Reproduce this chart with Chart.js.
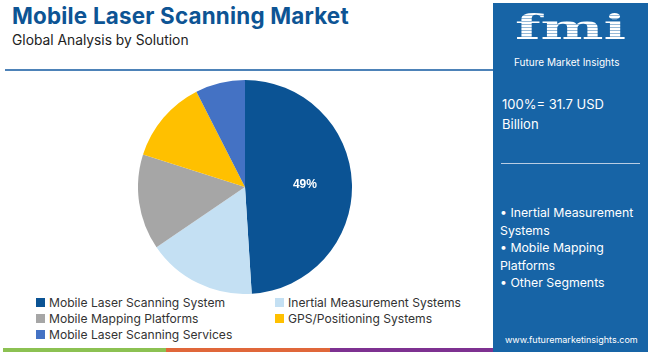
<!DOCTYPE html>
<html>
<head>
<meta charset="utf-8">
<script src="https://cdn.jsdelivr.net/npm/chart.js@4/dist/chart.umd.min.js"></script>
<style>
  html, body { margin: 0; padding: 0; background: #fff; }
  body { width: 650px; height: 352px; position: relative; overflow: hidden; font-family: "Open Sans", sans-serif; }
  #title { position: absolute; left: 12px; top: 2px; font: 700 22.4px "Inter", sans-serif; color: #0d5494; letter-spacing: 0.2px; white-space: nowrap; }
  #subtitle { position: absolute; left: 12px; top: 32px; font: 400 13.8px "Inter", sans-serif; color: #222; white-space: nowrap; }
  #rule { position: absolute; left: 5px; top: 69px; width: 488px; height: 2px; background: #4d82b8; }
  #pieWrap { position: absolute; left: 138px; top: 80px; width: 214px; height: 214px; }
  #legend { position: absolute; left: 36px; top: 295px; width: 450px; font: 400 12.1px "Inter", sans-serif; color: #333; }
  .item { position: absolute; white-space: nowrap; }
  .item i { display: inline-block; width: 9px; height: 9px; margin-right: 4px; vertical-align: -0px; }
  #strip { position: absolute; left: 3px; top: 348px; height: 4px; width: 490px; display: flex; }
  #strip div { flex: 1; }
  #panel { position: absolute; left: 493px; top: 3px; width: 155px; height: 349px; background: #1764a6; color: #fff; }
  #logo { position: absolute; left: 22px; top: 4px; font: 900 34px "DejaVu Serif", serif; letter-spacing: 0px; transform: scaleX(1.75); transform-origin: left top; line-height: 40px;
    background: repeating-linear-gradient(#fff 0 2px, rgba(255,255,255,0.55) 2px 3px); -webkit-background-clip: text; background-clip: text; color: transparent; }
  #logoSub { position: absolute; left: 21px; top: 53px; font: 400 10px "Inter", sans-serif; white-space: nowrap; }
  #total { position: absolute; left: 9px; top: 91px; font: 400 13px "Inter", sans-serif; line-height: 20px; }
  #rule2 { position: absolute; left: 8px; top: 160px; width: 139px; height: 1px; background: #b9cde3; }
  #bullets { position: absolute; left: 7px; top: 201px; font: 400 12.3px "Inter", sans-serif; line-height: 17.5px; width: 145px; }
  #url { position: absolute; left: 12px; top: 331px; font: 400 9px "Inter", sans-serif; white-space: nowrap; }
</style>
</head>
<body>
<div id="title">Mobile Laser Scanning Market</div>
<div id="subtitle">Global Analysis by Solution</div>
<div id="rule"></div>
<div id="pieWrap"><canvas id="pie"></canvas></div>
<div id="legend"></div>
<div id="strip"><div style="background:#8cc152"></div><div style="background:#e0673a"></div><div style="background:#7e3191"></div></div>
<div id="panel">
  <div id="logo">fmi</div>
  <div id="logoSub">Future Market Insights</div>
  <div id="total">100%= 31.7 USD<br>Billion</div>
  <div id="rule2"></div>
  <div id="bullets">• Inertial Measurement Systems<br>• Mobile Mapping Platforms<br>• Other Segments</div>
  <div id="url">www.futuremarketinsights.com</div>
</div>
<script>
const segments = ['Mobile Laser Scanning System', 'Inertial Measurement Systems', 'Mobile Mapping Platforms', 'GPS/Positioning Systems', 'Mobile Laser Scanning Services'];
const shares = [49, 16.5, 14.4, 12.6, 7.5];
const sliceLabels = ['49%', '', '', '', ''];
const colors = ['#0b5394', '#c4e0f3', '#a6a6a6', '#ffc000', '#4472c4'];

// legend is two columns, third row left only
const legendPos = [[0, 0], [239, 0], [0, 16], [239, 16], [0, 32]];

// Draw the % label on slices
const sliceLabelPlugin = {
    id: 'sliceLabels',
    afterDatasetsDraw(chart) {
        const ctx = chart.ctx;
        const meta = chart.getDatasetMeta(0);
        ctx.save();
        ctx.font = '700 12px "Liberation Sans", Arial, sans-serif';
        ctx.fillStyle = '#fff';
        ctx.textAlign = 'center';
        ctx.textBaseline = 'middle';
        meta.data.forEach((arc, i) => {
            if (!sliceLabels[i]) return;
            const mid = (arc.startAngle + arc.endAngle) / 2;
            const r = arc.outerRadius * 0.56;
            ctx.fillText(sliceLabels[i], arc.x + Math.cos(mid) * r, arc.y + Math.sin(mid) * r);
        });
        ctx.restore();
    }
};

const chart = new Chart(document.getElementById('pie'), {
    type: 'pie',
    data: {
        labels: segments,
        datasets: [{ data: shares, backgroundColor: colors, borderWidth: 0 }]
    },
    options: {
        responsive: true,
        maintainAspectRatio: false,
        animation: false,
        layout: { padding: 0 },
        plugins: { legend: { display: false }, tooltip: { enabled: false } }
    },
    plugins: [sliceLabelPlugin]
});

// HTML legend built from the chart's labels
const legendEl = document.getElementById('legend');
chart.options.plugins.legend.labels.generateLabels(chart).forEach((l, i) => {
    const d = document.createElement('div');
    d.className = 'item';
    d.style.left = legendPos[i][0] + 'px';
    d.style.top = legendPos[i][1] + 'px';
    d.innerHTML = '<i style="background:' + l.fillStyle + '"></i>' + l.text;
    legendEl.appendChild(d);
});
</script>
</body>
</html>
